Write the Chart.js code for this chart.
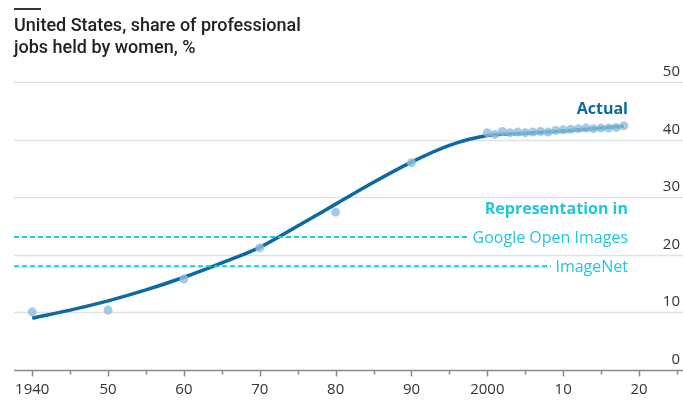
<!DOCTYPE html>
<html>
<head>
<meta charset="utf-8">
<script src="https://cdn.jsdelivr.net/npm/chart.js@4/dist/chart.umd.min.js"></script>
<style>
  html, body { margin: 0; padding: 0; background: #fff; }
  #wrap { position: relative; width: 683px; height: 400px; }
  #title { position: absolute; left: 14px; top: 8px; font-family: Roboto, sans-serif; font-weight: 500;
           font-size: 18px; line-height: 22px; color: #222; }
  #title:before { content: ''; display: block; width: 27px; height: 2px; background: #333; margin-bottom: 4px; }
</style>
</head>
<body>
<div id="wrap">
  <canvas id="cv" width="683" height="400"></canvas>
  <div id="title">United States, share of professional<br>jobs held by women, %</div>
</div>
<script>
// smoothed trend
const trendYears = [1940, 1945, 1950, 1955, 1960, 1965, 1970, 1975, 1980, 1985, 1990, 1995, 2000, 2005, 2010, 2015, 2018];
const trendShare = [9.0, 10.4, 12.0, 13.9, 16.1, 18.6, 21.3, 25.0, 28.8, 32.6, 36.1, 39.0, 40.7, 41.1, 41.5, 42.0, 42.3];

// observed points
const obsYears = [1940, 1950, 1960, 1970, 1980, 1990, 2000, 2001, 2002, 2003, 2004, 2005, 2006, 2007, 2008, 2009,
                  2010, 2011, 2012, 2013, 2014, 2015, 2016, 2017, 2018];
const obsShare = [10.1, 10.4, 15.8, 21.2, 27.4, 36.0, 41.2, 40.9, 41.4, 41.2, 41.3, 41.2, 41.3, 41.4, 41.3, 41.6,
                  41.7, 41.8, 41.9, 42.0, 41.9, 42.0, 42.0, 42.1, 42.4];

// representation in image datasets
const googleShare = 23.1;
const googleEnd = 1997.5;
const imagenetShare = 18.0;
const imagenetEnd = 2008.4;

const xMin = 1937.6, xMax = 2025.2;
const xTickValues = [1940, 1950, 1960, 1970, 1980, 1990, 2000, 2010, 2020];
const xTickLabels = ['1940', '50', '60', '70', '80', '90', '2000', '10', '20'];
const yTickValues = [0, 10, 20, 30, 40, 50];

const blue = '#0c6aa0';
const cyan = '#21c6dc';

const pts = (xs, ys) => xs.map((x, i) => ({ x: x, y: ys[i] }));

const overlay = {
  id: 'overlay',
  beforeDatasetsDraw(chart) {
    const { ctx, chartArea, scales } = chart;
    const y = scales.y;
    ctx.save();
    ctx.strokeStyle = '#dce2e7';
    ctx.lineWidth = 1.5;
    yTickValues.forEach(v => {
      if (v === 0) return;
      const py = Math.round(y.getPixelForValue(v)) + 0.5;
      ctx.beginPath(); ctx.moveTo(chartArea.left, py); ctx.lineTo(683, py); ctx.stroke();
    });
    ctx.restore();
  },
  afterDatasetsDraw(chart) {
    const { ctx, chartArea, scales } = chart;
    const y = scales.y, x = scales.x;
    ctx.save();
    // axis line and ticks
    const base = Math.round(y.getPixelForValue(0)) + 0.5;
    ctx.strokeStyle = '#8a8a8a';
    ctx.lineWidth = 1.5;
    ctx.beginPath(); ctx.moveTo(chartArea.left, base); ctx.lineTo(683, base); ctx.stroke();
    for (let yr = 1940; yr <= 2025; yr += 5) {
      const px = Math.round(x.getPixelForValue(yr)) + 0.5;
      ctx.beginPath(); ctx.moveTo(px, base); ctx.lineTo(px, base + (yr % 10 === 0 ? 6 : 4)); ctx.stroke();
    }
    // y labels
    ctx.fillStyle = '#333';
    ctx.font = '15px "Open Sans"';
    ctx.textAlign = 'right';
    ctx.textBaseline = 'alphabetic';
    yTickValues.forEach(v => {
      ctx.fillText(String(v), 680, y.getPixelForValue(v) - 6);
    });
    // annotations
    ctx.fillStyle = blue;
    ctx.font = 'bold 16px "Open Sans"';
    ctx.fillText('Actual', 628, y.getPixelForValue(44.5));
    ctx.fillStyle = cyan;
    ctx.fillText('Representation in', 628, y.getPixelForValue(27.1));
    ctx.font = '16px "Open Sans"';
    ctx.fillText('Google Open Images', 628, y.getPixelForValue(22.1));
    ctx.fillText('ImageNet', 628, y.getPixelForValue(17.0));
    ctx.restore();
  }
};

new Chart(document.getElementById('cv'), {
  type: 'line',
  data: {
    datasets: [
      {
        data: [{ x: xMin, y: googleShare }, { x: googleEnd, y: googleShare }],
        borderColor: cyan, borderWidth: 2, borderDash: [5, 3], pointRadius: 0
      },
      {
        data: [{ x: xMin, y: imagenetShare }, { x: imagenetEnd, y: imagenetShare }],
        borderColor: cyan, borderWidth: 2, borderDash: [5, 3], pointRadius: 0
      },
      {
        data: pts(obsYears, obsShare),
        showLine: false, pointRadius: 4.5, pointBackgroundColor: 'rgba(140,190,222,0.8)',
        pointBorderWidth: 0
      },
      {
        data: pts(trendYears, trendShare),
        borderColor: blue, borderWidth: 3.5, pointRadius: 0,
        cubicInterpolationMode: 'monotone', borderCapStyle: 'butt'
      }
    ]
  },
  options: {
    responsive: false,
    animation: false,
    layout: { padding: { left: 14, right: 0, top: 82, bottom: 0 } },
    plugins: { legend: { display: false }, tooltip: { enabled: false } },
    scales: {
      x: {
        type: 'linear', min: xMin, max: xMax,
        afterBuildTicks: s => { s.ticks = xTickValues.map(v => ({ value: v })); },
        afterFit: s => { s.height = 30; },
        ticks: {
          autoSkip: false, maxRotation: 0, padding: 3, color: '#333',
          font: { family: 'Open Sans', size: 15 },
          callback: v => xTickLabels[xTickValues.indexOf(v)]
        },
        grid: { display: false },
        border: { display: false }
      },
      y: {
        display: false, min: 0, max: 50
      }
    }
  },
  plugins: [overlay]
});
</script>
</body>
</html>
